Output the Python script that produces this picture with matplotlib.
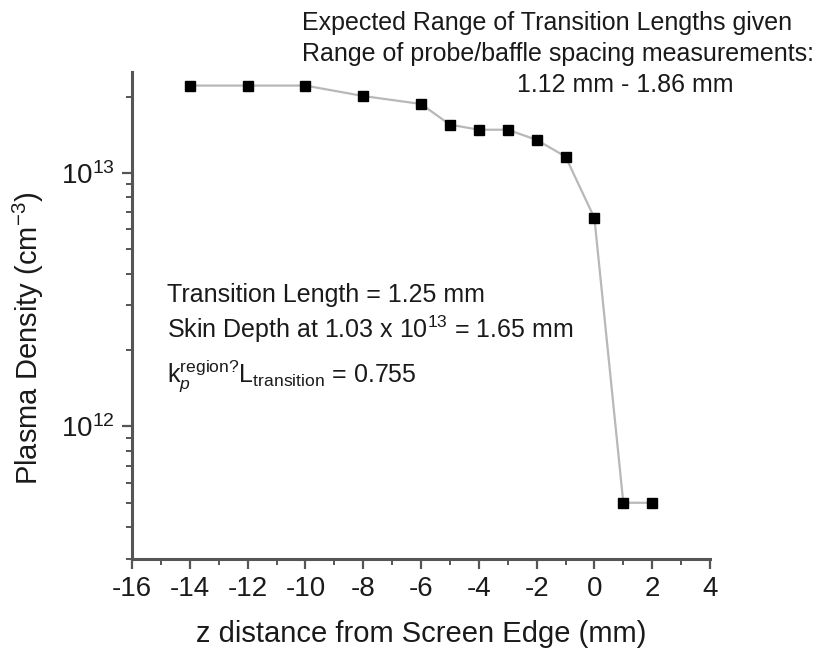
import matplotlib

matplotlib.use("Agg")
import matplotlib.pyplot as plt
from matplotlib.ticker import LogLocator, NullFormatter, MultipleLocator

# density profile near the screen edge
z_mm = [-14, -12, -10, -8, -6, -5, -4, -3, -2, -1, 0, 1, 2]
density = [2.21e13, 2.21e13, 2.21e13, 2.01e13, 1.87e13, 1.55e13, 1.48e13,
           1.48e13, 1.35e13, 1.16e13, 6.64e12, 5.0e11, 5.0e11]

x_ticks = [-16, -14, -12, -10, -8, -6, -4, -2, 0, 2, 4]

plt.rcParams["font.family"] = ["Liberation Sans", "DejaVu Sans"]
plt.rcParams["mathtext.fontset"] = "custom"
plt.rcParams["mathtext.rm"] = "Liberation Sans"
plt.rcParams["mathtext.it"] = "Liberation Sans:italic"
plt.rcParams["axes.unicode_minus"] = False

W, H = 821, 649
fig = plt.figure(figsize=(W / 100, H / 100), dpi=100)
ax = fig.add_axes([132 / W, 1 - 559 / H, (710 - 132) / W, (559 - 72) / H])

ax.plot(z_mm, density, color="#b8b8b8", linewidth=1.6, zorder=2)
ax.plot(z_mm, density, linestyle="none", marker="s", markersize=6.5,
        color="black", zorder=3)

ax.set_yscale("log")
ax.set_xlim(-16, 4)
ax.set_ylim(3e11, 2.5e13)
ax.set_xticks(x_ticks)
ax.xaxis.set_minor_locator(MultipleLocator(1))
ax.yaxis.set_major_locator(LogLocator(base=10))
ax.yaxis.set_minor_locator(LogLocator(base=10, subs=range(2, 10)))
ax.yaxis.set_minor_formatter(NullFormatter())

for side in ("top", "right"):
    ax.spines[side].set_visible(False)
for side in ("left", "bottom"):
    ax.spines[side].set_color("#555555")
    ax.spines[side].set_linewidth(2.2)

ax.tick_params(which="major", length=7.5, width=1.6, color="#555555",
               labelsize=20, labelcolor="#1a1a1a", pad=5)
ax.tick_params(which="minor", length=4.5, width=1.4, color="#555555")

ax.set_xlabel("z distance from Screen Edge (mm)", fontsize=21, color="#1a1a1a")
ax.set_ylabel("Plasma Density (cm$^{-3}$)", fontsize=21, color="#1a1a1a")
ax.xaxis.set_label_coords(0.5, -0.125)
ax.yaxis.set_label_coords(-0.149, 0.454)

txt = dict(fontsize=18, color="#1a1a1a", va="baseline")
fig.text(302 / W, 1 - 30 / H, "Expected Range of Transition Lengths given", **txt)
fig.text(302 / W, 1 - 61 / H, "Range of probe/baffle spacing measurements:", **txt)
fig.text(625 / W, 1 - 92 / H, "1.12 mm - 1.86 mm", ha="center", **txt)

fig.text(167 / W, 1 - 302 / H, "Transition Length = 1.25 mm", **txt)
fig.text(167 / W, 1 - 338 / H, "Skin Depth at 1.03 x 10$^{13}$ = 1.65 mm", **txt)
fig.text(167 / W, 1 - 382 / H,
         r"k$_{\mathit{p}}^{\mathrm{region?}}$L$_{\mathrm{transition}}$ = 0.755",
         **txt)

fig.savefig("out.png", dpi=100)
